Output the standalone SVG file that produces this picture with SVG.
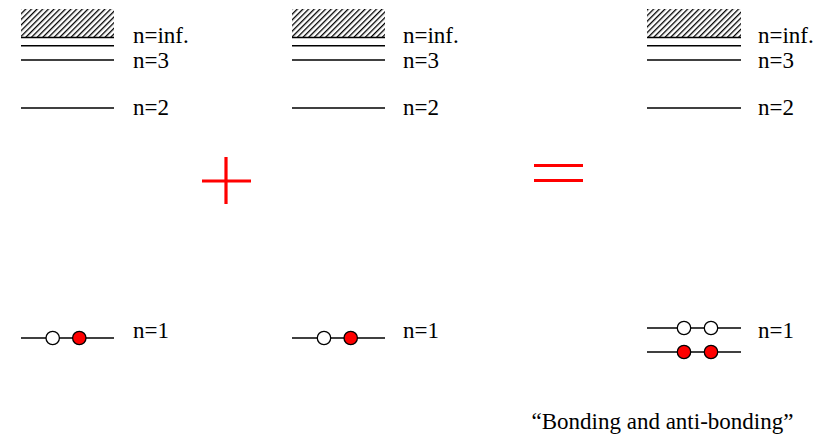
<svg xmlns="http://www.w3.org/2000/svg" width="819" height="439" viewBox="0 0 819 439">
<style>
.lv{stroke:#000;stroke-width:1.6;fill:none}
.t{font-size:23px;fill:#000}
.e{stroke:#000;stroke-width:1.3;fill:#fff}
.p{stroke:#000;stroke-width:1.3;fill:#f00}
.r{stroke:#f00;stroke-width:3.2;fill:none}
</style>
<defs>
<pattern id="hatch" width="4" height="4" patternUnits="userSpaceOnUse" patternTransform="rotate(45)">
<rect width="4" height="4" fill="#fff"/>
<line x1="0" y1="0" x2="0" y2="4" stroke="#000" stroke-width="2.6"/>
</pattern>
</defs>
<g font-family="'Liberation Serif', 'Times New Roman', Tinos, 'DejaVu Serif', serif">
<g id="atom1">
<rect x="21" y="9" width="93" height="28" fill="url(#hatch)"/>
<line class="lv" x1="21" y1="37.5" x2="114" y2="37.5" stroke="#555"/>
<line class="lv" x1="21" y1="45.7" x2="114" y2="45.7"/>
<line class="lv" x1="21" y1="60" x2="114" y2="60"/>
<line class="lv" x1="21" y1="108" x2="114" y2="108"/>
<text class="t" x="133" y="43.3">n=inf.</text>
<text class="t" x="133" y="68.3">n=3</text>
<text class="t" x="133" y="115">n=2</text>
<text class="t" x="133" y="338">n=1</text>
<line class="lv" x1="21" y1="338" x2="114" y2="338"/>
<circle class="e" cx="52.7" cy="338" r="6.7"/>
<circle class="p" cx="79.3" cy="338" r="6.7"/>
</g>
<g id="atom2">
<rect x="292" y="9" width="93" height="28" fill="url(#hatch)"/>
<line class="lv" x1="292" y1="37.5" x2="385" y2="37.5" stroke="#555"/>
<line class="lv" x1="292" y1="45.7" x2="385" y2="45.7"/>
<line class="lv" x1="292" y1="60" x2="385" y2="60"/>
<line class="lv" x1="292" y1="108" x2="385" y2="108"/>
<text class="t" x="403" y="43.3">n=inf.</text>
<text class="t" x="403" y="68.3">n=3</text>
<text class="t" x="403" y="115">n=2</text>
<text class="t" x="403" y="338">n=1</text>
<line class="lv" x1="292" y1="338" x2="385" y2="338"/>
<circle class="e" cx="324" cy="338" r="6.7"/>
<circle class="p" cx="350.7" cy="338" r="6.7"/>
</g>
<g id="molecule">
<rect x="647" y="9" width="94" height="28" fill="url(#hatch)"/>
<line class="lv" x1="647" y1="37.5" x2="741" y2="37.5" stroke="#555"/>
<line class="lv" x1="647" y1="45.7" x2="741" y2="45.7"/>
<line class="lv" x1="647" y1="60" x2="741" y2="60"/>
<line class="lv" x1="647" y1="108" x2="741" y2="108"/>
<text class="t" x="758" y="43.3">n=inf.</text>
<text class="t" x="758" y="68.3">n=3</text>
<text class="t" x="758" y="115">n=2</text>
<text class="t" x="758" y="338">n=1</text>
<line class="lv" x1="647" y1="328" x2="741" y2="328"/>
<line class="lv" x1="647" y1="352" x2="741" y2="352"/>
<circle class="e" cx="684" cy="328" r="6.7"/>
<circle class="e" cx="711" cy="328" r="6.7"/>
<circle class="p" cx="684" cy="352" r="6.7"/>
<circle class="p" cx="711" cy="352" r="6.7"/>
</g>
<g id="plus">
<line class="r" x1="226" y1="157" x2="226" y2="204"/>
<line class="r" x1="202" y1="181" x2="251" y2="181"/>
</g>
<g id="equals">
<line class="r" x1="534" y1="165.5" x2="583" y2="165.5"/>
<line class="r" x1="534" y1="180.5" x2="583" y2="180.5"/>
</g>
<text class="t" x="531.5" y="429">“Bonding and anti-bonding”</text>
</g>
</svg>
